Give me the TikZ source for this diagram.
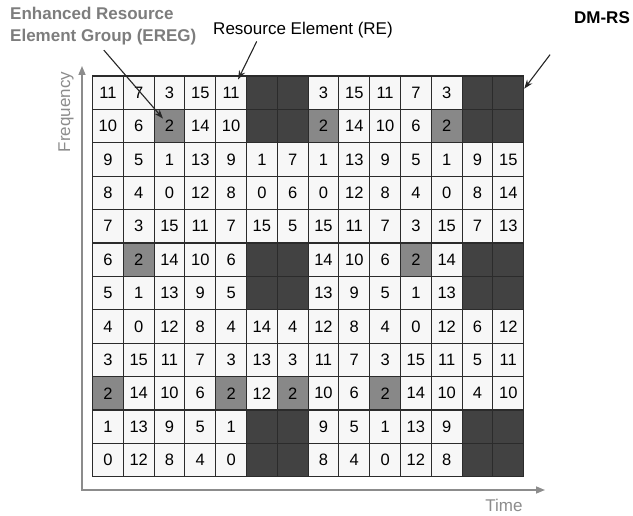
\documentclass[tikz,border=0pt]{standalone}
\usepackage{fontspec}
\setmainfont{Liberation Sans}
\usepackage{tikz}
\usepackage{xcolor}
\usetikzlibrary{arrows.meta, positioning}
\definecolor{relight}{HTML}{F7F7F7}
\definecolor{ereggray}{HTML}{888888}
\definecolor{dmrsdark}{HTML}{424242}
\definecolor{gridline}{HTML}{2B2B2B}
\definecolor{axisgray}{HTML}{8C8C8C}
\definecolor{eregtext}{HTML}{7D7D7D}
\newcommand{\cellfont}{\fontsize{16.5}{18}\selectfont}
\newcommand{\labelfont}{\fontsize{17}{22}\selectfont}
\tikzstyle{recell}   = [rectangle, minimum width=30.8pt, minimum height=33.4pt, inner sep=0pt,
                        draw=gridline, line width=1.1pt, fill=relight, font=\cellfont]
\tikzstyle{eregcell} = [recell, fill=ereggray]
\tikzstyle{dmrscell} = [recell, fill=dmrsdark]
\tikzstyle{arrow}    = [-{Stealth[length=9pt, width=6.5pt]}, line width=1.1pt, draw=black!85]
\tikzstyle{axisline} = [{Triangle[length=9pt, width=7pt]}-{Triangle[length=9pt, width=7pt]},
                        line width=1.5pt, draw=axisgray]

\begin{document}
\begin{tikzpicture}[x=1pt, y=-1pt]
    \useasboundingbox (0,0) rectangle (633,516);

    % resource grid, -1 = DM-RS
    \foreach \vals [count=\r] in {
        {11,7,3,15,11,-1,-1,3,15,11,7,3,-1,-1},
        {10,6,2,14,10,-1,-1,2,14,10,6,2,-1,-1},
        {9,5,1,13,9,1,7,1,13,9,5,1,9,15},
        {8,4,0,12,8,0,6,0,12,8,4,0,8,14},
        {7,3,15,11,7,15,5,15,11,7,3,15,7,13},
        {6,2,14,10,6,-1,-1,14,10,6,2,14,-1,-1},
        {5,1,13,9,5,-1,-1,13,9,5,1,13,-1,-1},
        {4,0,12,8,4,14,4,12,8,4,0,12,6,12},
        {3,15,11,7,3,13,3,11,7,3,15,11,5,11},
        {2,14,10,6,2,12,2,10,6,2,14,10,4,10},
        {1,13,9,5,1,-1,-1,9,5,1,13,9,-1,-1},
        {0,12,8,4,0,-1,-1,8,4,0,12,8,-1,-1}}{
        \foreach \v [count=\c] in \vals {
            \ifnum\v=2 \def\sty{eregcell}\else\ifnum\v<0 \def\sty{dmrscell}\else\def\sty{recell}\fi\fi
            \node (c\r-\c) [\sty] at ({92.5+30.8*(\c-0.5)}, {76+33.4*(\r-0.5)}) {\ifnum\v<0 \else\v\fi};
        }
    }

    % axes
    \coordinate (freqend) at (82,66);
    \coordinate (timeend) at (545,490);
    \draw[axisline] (freqend) |- (timeend);
    \node (freq) [rotate=90, text=axisgray, font=\labelfont] at (66,112) {Frequency};
    \node (time) [text=axisgray, font=\labelfont] at (504,505) {Time};

    % labels
    \node (ereg) [anchor=west, align=left, text=eregtext, inner sep=2pt,
                  font=\labelfont\bfseries] at (8,26) {Enhanced Resource\\Element Group (EREG)};
    \node (re) [font=\labelfont] at (303,30) {Resource Element (RE)};
    \node (dmrs) [font=\labelfont\bfseries] at (602,18) {DM-RS};

    \draw[arrow, shorten <=4pt, shorten >=10pt] ([xshift=-2pt]ereg.south) -- (c2-3.center);
    \draw[arrow] ([xshift=47pt]re.south west) -- ([xshift=7pt, yshift=-4pt]c1-5.north);
    \draw[arrow, shorten <=34pt] (dmrs.south west) -- ([yshift=4pt]c1-14.east);
\end{tikzpicture}
\end{document}
